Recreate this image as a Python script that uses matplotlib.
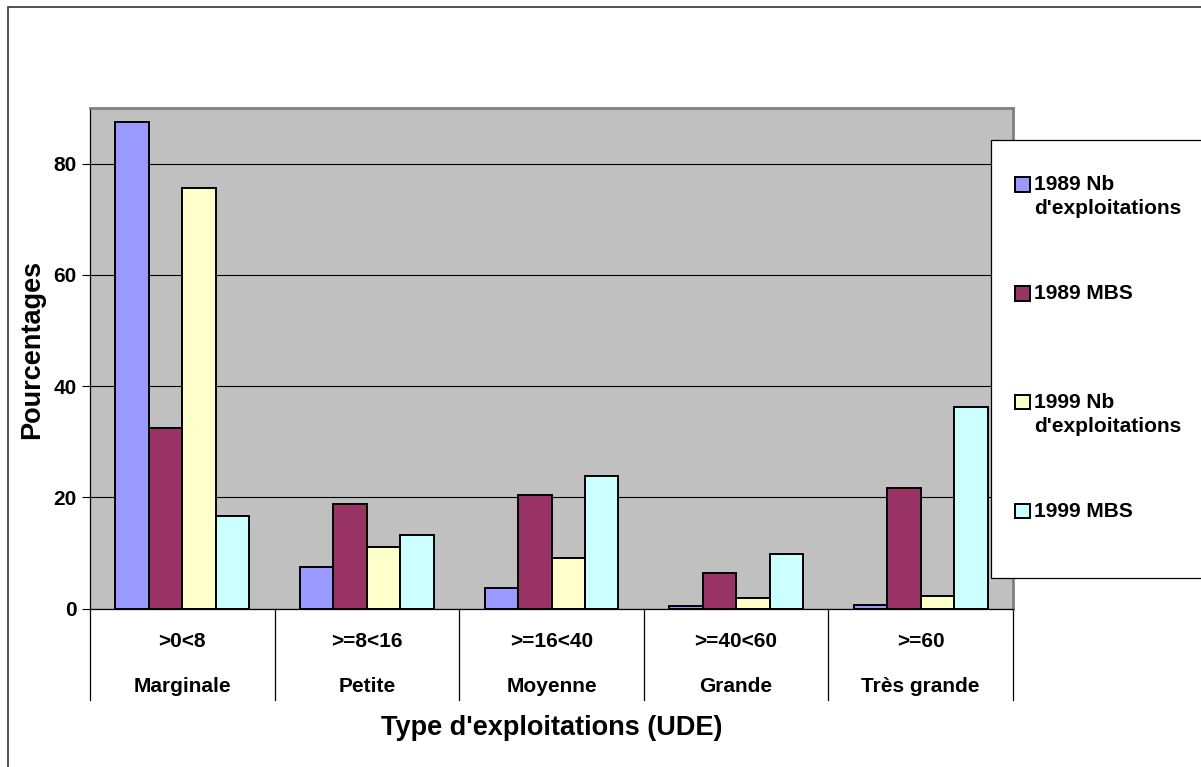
import matplotlib.pyplot as plt
from matplotlib.patches import Rectangle
from matplotlib.legend_handler import HandlerPatch, update_from_first_child
import numpy as np

plt.rcParams['font.family'] = ['Liberation Sans', 'DejaVu Sans']
plt.rcParams['font.weight'] = 'bold'

# classes de taille (UDE) et libellés
classes = [">0<8", ">=8<16", ">=16<40", ">=40<60", ">=60"]
types = ["Marginale", "Petite", "Moyenne", "Grande", "Très grande"]

# pourcentages par série
nb_1989 = [87.4, 7.4, 3.6, 0.5, 0.7]
mbs_1989 = [32.5, 18.8, 20.4, 6.4, 21.6]
nb_1999 = [75.6, 11.0, 9.0, 1.9, 2.3]
mbs_1999 = [16.6, 13.3, 23.9, 9.8, 36.2]

series = [nb_1989, mbs_1989, nb_1999, mbs_1999]
# chaque entrée de légende sur deux lignes pour un pas régulier
noms = ["1989 Nb\nd'exploitations", "1989 MBS\n", "1999 Nb\nd'exploitations", "1999 MBS\n"]
couleurs = ["#9999FF", "#993366", "#FFFFCC", "#CCFFFF"]

fig = plt.figure(figsize=(12.01, 7.67), dpi=100)
ax = fig.add_axes([90 / 1201, 158.5 / 767, 923 / 1201, 500.5 / 767])
ax.set_facecolor("#C0C0C0")

x = np.arange(len(classes))
larg = 0.725 / 4
barres = []
for i, vals in enumerate(series):
    b = ax.bar(x - 0.3625 + larg * (i + 0.5), vals, width=larg, color=couleurs[i],
               edgecolor="black", linewidth=1.4, label=noms[i], zorder=3)
    barres.append(b)

ax.set_xlim(-0.5, len(classes) - 0.5)
ax.set_ylim(0, 90)
ax.set_yticks([0, 20, 40, 60, 80])
ax.yaxis.grid(True, color="black", linewidth=0.8, zorder=0)
ax.tick_params(axis="y", labelsize=15, length=6, width=0.8, direction="out")
ax.tick_params(axis="x", bottom=False, labelbottom=False)
for lab in ax.get_yticklabels():
    lab.set_fontweight("bold")

ax.spines["left"].set_color("black")
ax.spines["bottom"].set_color("black")
ax.spines["left"].set_linewidth(0.9)
ax.spines["bottom"].set_linewidth(0.9)
ax.spines["top"].set_color("#808080")
ax.spines["right"].set_color("#808080")
ax.spines["top"].set_linewidth(2)
ax.spines["right"].set_linewidth(2)

# séparateurs et libellés des catégories sur deux niveaux
for b in np.arange(-0.5, len(classes), 1.0):
    ax.plot([b, b], [0, -0.183], color="black", linewidth=0.9,
            transform=ax.get_xaxis_transform(), clip_on=False)
for xi, c, t in zip(x, classes, types):
    ax.text(xi, -0.065, c, transform=ax.get_xaxis_transform(), ha="center",
            va="center", fontsize=15, fontweight="bold")
    ax.text(xi, -0.155, t, transform=ax.get_xaxis_transform(), ha="center",
            va="center", fontsize=15, fontweight="bold")

ax.text(0.5, -0.239, "Type d'exploitations (UDE)", transform=ax.transAxes,
        ha="center", va="center", fontsize=19.5, fontweight="bold")
fig.text(32 / 1201, 1 - 349 / 767, "Pourcentages", rotation=90, ha="center",
         va="center", fontsize=19.5, fontweight="bold")


# carré de légende aligné sur la première ligne du libellé
def carre_haut(legend, orig_handle, xdescent, ydescent, width, height, fontsize):
    return Rectangle((-xdescent, -ydescent + 9.0), width, height)


h = HandlerPatch(patch_func=carre_haut, update_func=update_from_first_child)
leg = fig.legend(loc="upper left", bbox_to_anchor=(980 / 1201, 1 - 140 / 767),
                 borderaxespad=0, fontsize=15, handlelength=0.7,
                 handleheight=0.7, handletextpad=0.2, labelspacing=3.17,
                 borderpad=1.7, frameon=False,
                 handler_map={b: h for b in barres})
for t in leg.get_texts():
    t.set_fontweight("bold")
    t.set_linespacing(1.32)

# cadre de la légende
fig.patches.append(Rectangle((991 / 1201, 1 - 578 / 767), 0.2, 438 / 767,
                             transform=fig.transFigure, facecolor="white",
                             edgecolor="black", linewidth=0.9, zorder=2.5))
leg.set_zorder(3)

# cadre extérieur
fig.patches.append(Rectangle((8 / 1201, -0.05), 1.2, 1 - 7 / 767 + 0.05,
                             transform=fig.transFigure, fill=False,
                             edgecolor="#333333", linewidth=1.2))

fig.savefig("out.png", dpi=100)
